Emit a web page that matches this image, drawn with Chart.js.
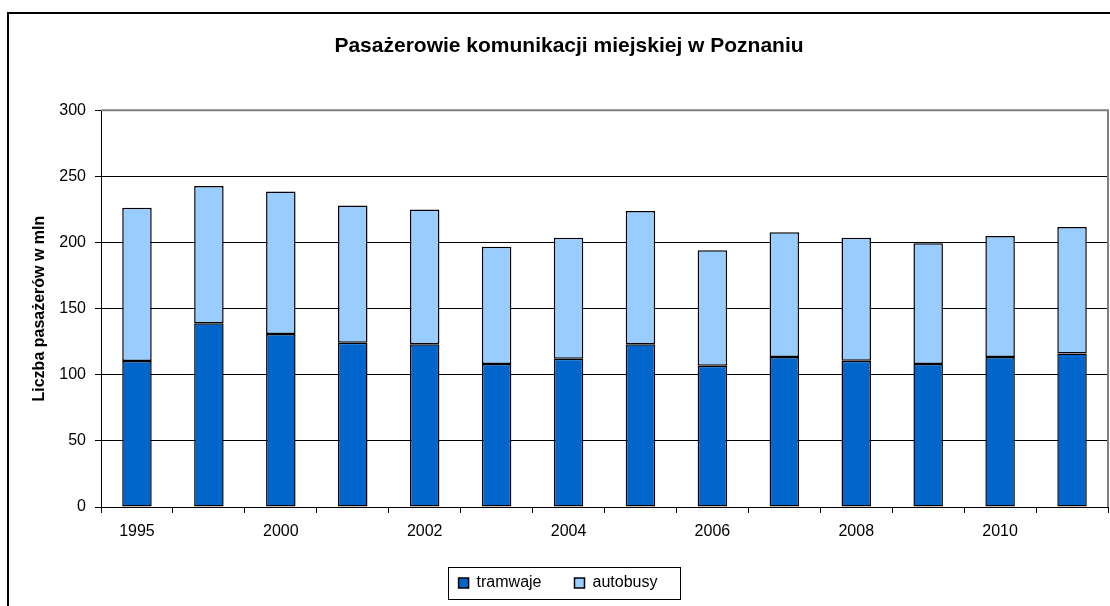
<!DOCTYPE html>
<html>
<head>
<meta charset="utf-8">
<script src="https://cdn.jsdelivr.net/npm/chart.js@4.4.1/dist/chart.umd.min.js"></script>
<style>
  html, body { margin: 0; padding: 0; background: #fff; overflow: hidden; }
  #wrap { position: absolute; left: 0; top: 0; width: 1138px; height: 640px; }
</style>
</head>
<body>
<div id="wrap"><canvas id="chart"></canvas></div>
<script>
const years = ['1995', '1999', '2000', '2001', '2002', '2003', '2004', '2005', '2006', '2007', '2008', '2009', '2010', '2011'];
const tramwaje = [110.4, 138.9, 130.8, 124.2, 123.0, 108.1, 112.1, 123.0, 106.8, 113.4, 110.6, 108.1, 113.4, 116.1];
const autobusy = [115.9, 103.8, 107.8, 103.8, 102.0, 88.6, 91.4, 100.7, 87.4, 94.4, 92.9, 91.4, 91.4, 95.5];
const yTicks = [0, 50, 100, 150, 200, 250, 300];

const FONT = 'Arial, "Liberation Sans", sans-serif';

// outer chart border, plot-area frame and legend box
const framePlugin = {
    id: 'frame',
    afterLayout: (chart) => {
        // title is centred on the whole (wider) chart object, not the plot
        const t = chart.titleBlock;
        t.right += 30;
        t.width += 30;
        // nudge legend a little to the right
        chart.legend.left += 8;
    },
    beforeDraw: (chart) => {
        const ctx = chart.ctx;
        ctx.save();
        ctx.fillStyle = '#fff';
        ctx.fillRect(0, 0, chart.width, chart.height);
        ctx.lineWidth = 2;
        ctx.strokeStyle = '#000';
        ctx.strokeRect(8, 13, chart.width, chart.height);
        ctx.restore();
    },
    beforeDatasetsDraw: (chart) => {
        const ctx = chart.ctx;
        const a = chart.chartArea;
        ctx.save();
        ctx.lineWidth = 2;
        ctx.strokeStyle = '#808080';
        ctx.beginPath();
        ctx.moveTo(a.left, a.top);
        ctx.lineTo(a.right, a.top);
        ctx.lineTo(a.right, a.bottom);
        ctx.stroke();
        ctx.restore();
    },
    afterDraw: (chart) => {
        const boxes = chart.legend.legendHitBoxes;
        if (!boxes || !boxes.length) return;
        const first = boxes[0];
        const last = boxes[boxes.length - 1];
        const cy = first.top + first.height / 2;
        const left = Math.round(first.left - 11);
        const right = Math.round(last.left + last.width + 23);
        const ctx = chart.ctx;
        ctx.save();
        ctx.lineWidth = 1;
        ctx.strokeStyle = '#000';
        ctx.strokeRect(left + 0.5, Math.round(cy - 16) + 0.5, right - left, 32);
        ctx.restore();
    }
};

new Chart(document.getElementById('chart'), {
    type: 'bar',
    plugins: [framePlugin],
    data: {
        labels: years,
        datasets: [
            {
                label: 'tramwaje',
                data: tramwaje,
                backgroundColor: '#0066CC',
                borderColor: '#000',
                borderWidth: 1.5,
                borderSkipped: false,
                barPercentage: 0.41,
                categoryPercentage: 1
            },
            {
                label: 'autobusy',
                data: autobusy,
                backgroundColor: '#99CCFF',
                borderColor: '#000',
                borderWidth: 1.5,
                borderSkipped: false,
                barPercentage: 0.41,
                categoryPercentage: 1
            }
        ]
    },
    options: {
        responsive: true,
        maintainAspectRatio: false,
        animation: false,
        devicePixelRatio: 1,
        layout: { padding: { left: 0, right: 30, top: 0, bottom: 39 } },
        plugins: {
            title: {
                display: true,
                text: 'Pasażerowie komunikacji miejskiej w Poznaniu',
                color: '#000',
                font: { family: FONT, size: 21, weight: 'bold' },
                padding: { top: 34, bottom: 51 }
            },
            legend: {
                position: 'bottom',
                labels: {
                    color: '#000',
                    font: { family: FONT, size: 16 },
                    boxWidth: 10,
                    boxHeight: 10,
                    padding: 33
                }
            },
            tooltip: { enabled: false }
        },
        scales: {
            x: {
                stacked: true,
                afterFit: (scale) => { scale.height = 35; },
                border: { display: true, color: '#000', width: 1 },
                grid: {
                    offset: true,
                    drawOnChartArea: false,
                    drawTicks: true,
                    tickLength: 6,
                    tickColor: '#000'
                },
                ticks: {
                    color: '#000',
                    font: { family: FONT, size: 16 },
                    autoSkip: false,
                    maxRotation: 0,
                    padding: 9,
                    callback: (val, i) => i % 2 === 0 ? years[i] : ''
                }
            },
            y: {
                stacked: true,
                min: 0,
                max: 300,
                afterFit: (scale) => { scale.width = 101; },
                afterBuildTicks: (scale) => { scale.ticks = yTicks.map(v => ({ value: v })); },
                border: { display: true, color: '#000', width: 1 },
                grid: {
                    color: (c) => c.tick && c.tick.value === 300 ? '#808080' : '#000',
                    tickColor: '#000',
                    tickLength: 6
                },
                ticks: {
                    color: '#000',
                    font: { family: FONT, size: 16 },
                    padding: 9
                },
                title: {
                    display: true,
                    text: 'Liczba pasażerów w mln',
                    color: '#000',
                    font: { family: FONT, size: 16, weight: 'bold' },
                    padding: { top: 30, bottom: 0 }
                }
            }
        }
    }
});
</script>
</body>
</html>
